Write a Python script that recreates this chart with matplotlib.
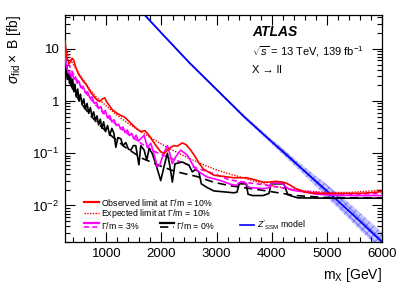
import numpy as np
import matplotlib
matplotlib.use('Agg')
import matplotlib.pyplot as plt
from matplotlib.ticker import FixedLocator, FuncFormatter, LogLocator, NullFormatter

plt.rcParams['font.family'] = ['Liberation Sans', 'DejaVu Sans']
plt.rcParams['mathtext.fontset'] = 'custom'
plt.rcParams['mathtext.rm'] = 'Liberation Sans'
plt.rcParams['mathtext.it'] = 'Liberation Sans:italic'
plt.rcParams['mathtext.bf'] = 'Liberation Sans:bold'
plt.rcParams['hatch.linewidth'] = 0.6

# observed limit, Gamma/m = 10%
obs10_m = [250, 270, 290, 320, 350, 380, 410, 440, 470, 500, 540, 580, 630, 680, 720, 780, 830, 880,
           930, 970, 1010, 1060, 1110, 1160, 1210, 1260, 1320, 1380, 1440, 1500, 1560, 1620, 1700, 1760,
           1830, 1900, 1986, 2047, 2107, 2170, 2227, 2288, 2378, 2450, 2529, 2600, 2679, 2760, 2831,
           2950, 3132, 3300, 3450, 3540, 3650, 3842, 3950, 4076, 4200, 4256, 4350, 4435, 4615, 4800,
           5062, 5300, 5660, 5850, 6000]
obs10_v = [14, 9, 6.5, 5.2, 5.6, 6.6, 6.0, 4.6, 3.8, 3.2, 2.8, 2.4, 2.1, 1.7, 1.45, 1.2, 1.05, 0.98,
           1.1, 1.15, 0.95, 0.8, 0.68, 0.62, 0.57, 0.53, 0.50, 0.44, 0.38, 0.33, 0.29, 0.26, 0.27, 0.23,
           0.18, 0.14, 0.107, 0.099, 0.115, 0.13, 0.14, 0.137, 0.158, 0.145, 0.115, 0.09, 0.065, 0.05, 0.045,
           0.038, 0.036, 0.034, 0.034, 0.034, 0.032, 0.028, 0.028, 0.029, 0.028, 0.027, 0.024, 0.021, 0.018,
           0.0172, 0.017, 0.017, 0.0172, 0.0178, 0.0185]

# expected limit, Gamma/m = 10%
exp10_m = [250, 300, 400, 500, 600, 700, 800, 1000, 1200, 1400, 1600, 1800, 2000, 2200, 2400, 2600,
           2800, 3000, 3200, 3400, 3600, 3800, 4000, 4300, 4600, 5000, 5400, 5800, 6000]
exp10_v = [11, 8, 5, 3.4, 2.4, 1.7, 1.25, 0.8, 0.53, 0.37, 0.27, 0.2, 0.15, 0.115, 0.09, 0.072,
           0.058, 0.048, 0.041, 0.036, 0.031, 0.027, 0.024, 0.021, 0.019, 0.0178, 0.0178, 0.019, 0.020]

# observed limit, Gamma/m = 3%
obs3_m = [250, 270, 290, 310, 330, 355, 380, 410, 440, 470, 500, 540, 580, 620, 660, 700, 740, 780,
          820, 860, 900, 940, 980, 1020, 1060, 1100, 1140, 1180, 1220, 1260, 1300, 1340, 1380, 1420,
          1460, 1500, 1540, 1580, 1625, 1685, 1745, 1806, 1860, 1926, 1970, 2017, 2060, 2107, 2150,
          2197, 2257, 2348, 2468, 2589, 2679, 2831, 3072, 3230, 3357, 3400, 3440, 3530, 3570, 3620,
          3842, 3960, 4000, 4180, 4230, 4300, 4382, 4615, 4800, 5100, 5600, 6000]
obs3_v = [9, 5, 4.2, 3.4, 3.8, 3.0, 3.4, 2.6, 2.9, 2.2, 2.4, 1.8, 1.9, 1.45, 1.5, 1.15, 1.2, 0.9,
          0.95, 0.72, 0.78, 0.58, 0.66, 0.48, 0.53, 0.4, 0.44, 0.34, 0.36, 0.29, 0.32, 0.25, 0.28, 0.22,
          0.24, 0.19, 0.22, 0.17, 0.19, 0.22, 0.13, 0.155, 0.1, 0.055, 0.06, 0.085, 0.11, 0.14, 0.1,
          0.063, 0.085, 0.115, 0.092, 0.055, 0.044, 0.035, 0.030, 0.026, 0.024, 0.027, 0.028, 0.027,
          0.023, 0.022, 0.021, 0.022, 0.027, 0.027, 0.024, 0.021, 0.0195, 0.018, 0.0165, 0.0158, 0.0155,
          0.0155]

# expected limit, Gamma/m = 3%
exp3_m = [250, 300, 400, 500, 600, 700, 800, 1000, 1200, 1400, 1650, 1900, 2242, 2637, 2943, 3230,
          3600, 3842, 4435, 5000, 5500, 6000]
exp3_v = [7.5, 5.5, 3.3, 2.2, 1.55, 1.15, 0.85, 0.52, 0.34, 0.23, 0.15, 0.105, 0.075, 0.052, 0.041,
          0.031, 0.027, 0.025, 0.0195, 0.017, 0.0165, 0.017]

# observed limit, Gamma/m = 0%
obs0_m = [250, 265, 280, 295, 310, 330, 350, 370, 390, 410, 430, 455, 480, 505, 530, 560, 590, 620,
          650, 680, 710, 740, 770, 800, 830, 860, 890, 920, 950, 985, 1022, 1060, 1100, 1138, 1172,
          1210, 1263, 1300, 1353, 1400, 1444, 1490, 1534, 1590, 1625, 1685, 1733, 1775, 1830, 1896,
          1986, 2059, 2107, 2155, 2197, 2245, 2378, 2499, 2559, 2619, 2679, 2722, 2831, 2950, 3072,
          3312, 3370, 3410, 3536, 3570, 3650, 3842, 3950, 3986, 4220, 4292, 4470, 5000, 6000]
obs0_v = [6.5, 3.2, 4.6, 2.6, 3.8, 2.2, 3.2, 1.9, 2.6, 1.5, 2.1, 1.2, 1.7, 1.0, 1.35, 0.85, 1.1, 0.7,
          0.9, 0.58, 0.75, 0.5, 0.62, 0.42, 0.52, 0.35, 0.45, 0.3, 0.4, 0.26, 0.34, 0.22, 0.3, 0.24, 0.13,
          0.2, 0.19, 0.14, 0.16, 0.12, 0.115, 0.14, 0.14, 0.06, 0.14, 0.115, 0.074, 0.123, 0.1, 0.063,
          0.030, 0.063, 0.1, 0.055, 0.028, 0.063, 0.068, 0.059, 0.044, 0.049, 0.044, 0.026, 0.022, 0.019,
          0.0185, 0.0175, 0.018, 0.026, 0.026, 0.0165, 0.0155, 0.0155, 0.017, 0.026, 0.026, 0.016, 0.014,
          0.0138, 0.0138]

# expected limit, Gamma/m = 0%
exp0_m = [250, 300, 400, 500, 600, 700, 800, 1000, 1343, 1650, 2000, 2242, 2637, 2943, 3230, 3842,
          4435, 5000, 6000]
exp0_v = [4.0, 2.8, 1.6, 1.05, 0.75, 0.55, 0.42, 0.26, 0.13, 0.08, 0.056, 0.045, 0.036, 0.028, 0.024,
          0.0195, 0.0155, 0.0142, 0.014]

# Z'_SSM model prediction and its uncertainty (log10 half width)
zssm_m = [1500, 2000, 2500, 3000, 3500, 4000, 4500, 5000, 5500, 6000]
zssm_v = [74, 20, 5.5, 1.66, 0.5, 0.166, 0.056, 0.019, 0.0063, 0.002]
zssm_unc = [0.015, 0.015, 0.02, 0.025, 0.03, 0.045, 0.07, 0.12, 0.16, 0.18]

fig = plt.figure(figsize=(4.03, 2.89), dpi=100)
ax = fig.add_axes([65 / 403, 1 - 242 / 289, 317 / 403, 227.3 / 289])

zv = np.array(zssm_v)
zu = np.array(zssm_unc)
ax.fill_between(zssm_m, zv * 10 ** (-zu), zv * 10 ** zu, facecolor='#c4c4ff', edgecolor='#7070ff',
                hatch='xxxx', linewidth=0, zorder=1)
ax.plot(zssm_m, zssm_v, color='#0000ff', lw=1.3, zorder=2)

ax.plot(exp10_m, exp10_v, color='#ff0000', lw=1.0, ls=(0, (1, 1)), zorder=3)
ax.plot(exp3_m, exp3_v, color='#ff00ff', lw=1.2, ls=(0, (3, 2)), zorder=3)
ax.plot(exp0_m, exp0_v, color='black', lw=1.2, ls=(0, (5, 3)), zorder=3)
ax.plot(obs0_m, obs0_v, color='black', lw=1.2, zorder=4)
ax.plot(obs3_m, obs3_v, color='#ff00ff', lw=1.2, zorder=4)
ax.plot(obs10_m, obs10_v, color='#ff0000', lw=1.2, zorder=5)

ax.set_yscale('log')
ax.set_xlim(250, 6000)
ax.set_ylim(2e-3, 45)

ax.xaxis.set_major_locator(FixedLocator([1000, 2000, 3000, 4000, 5000, 6000]))
ax.xaxis.set_minor_locator(FixedLocator(np.arange(400, 6001, 200)))
ax.yaxis.set_major_locator(FixedLocator([1e-2, 1e-1, 1, 10]))
ax.yaxis.set_minor_locator(LogLocator(base=10, subs=np.arange(2, 10)))
ax.yaxis.set_minor_formatter(NullFormatter())


def ylab(v, pos):
    if v >= 1:
        return '%d' % v
    return r'$10^{%d}$' % round(np.log10(v))


ax.yaxis.set_major_formatter(FuncFormatter(ylab))
ax.tick_params(which='both', direction='in', top=True, right=True, labelsize=9.5, width=0.8)
ax.tick_params(which='major', length=7, pad=4)
ax.tick_params(which='minor', length=3.5)
for s in ax.spines.values():
    s.set_linewidth(0.9)

ax.text(-0.16, 1.0, r'$\sigma_{\rm fid}\times$ B [fb]', rotation=90, ha='center', va='top',
        fontsize=10, transform=ax.transAxes)
ax.text(1.0, -0.145, r'm$_{\rm X}$ [GeV]', ha='right', va='center', fontsize=10, transform=ax.transAxes)

ax.text(0.59, 0.924, 'ATLAS', fontsize=10, fontweight='bold', style='italic', va='center',
        transform=ax.transAxes)
ax.text(0.59, 0.836, r'$\sqrt{s}$ = 13 TeV, 139 fb$^{-1}$', fontsize=8, va='center', transform=ax.transAxes)
ax.text(0.59, 0.756, u'X \u2192 ll', fontsize=8, va='center', transform=ax.transAxes)

# legend drawn by hand
lfs = 6.3
tr = ax.transAxes
ax.plot([0.06, 0.107], [0.175, 0.175], color='#ff0000', lw=1.6, transform=tr)
ax.text(0.114, 0.175, r'Observed limit at $\Gamma$/m = 10%', fontsize=lfs, va='center', transform=tr)
ax.plot([0.06, 0.107], [0.126, 0.126], color='#ff0000', lw=1.0, ls=(0, (1, 1)), transform=tr)
ax.text(0.114, 0.126, r'Expected limit at $\Gamma$/m = 10%', fontsize=lfs, va='center', transform=tr)
ax.plot([0.06, 0.107], [0.083, 0.083], color='#ff00ff', lw=1.6, transform=tr)
ax.plot([0.06, 0.107], [0.066, 0.066], color='#ff00ff', lw=1.2, ls=(0, (3, 2)), transform=tr)
ax.text(0.114, 0.074, r'$\Gamma$/m = 3%', fontsize=lfs, va='center', transform=tr)
ax.plot([0.30, 0.343], [0.083, 0.083], color='black', lw=1.6, transform=tr)
ax.plot([0.30, 0.343], [0.066, 0.066], color='black', lw=1.2, ls=(0, (5, 3)), transform=tr)
ax.text(0.35, 0.074, r'$\Gamma$/m = 0%', fontsize=lfs, va='center', transform=tr)
ax.plot([0.552, 0.596], [0.074, 0.074], color='#0000ff', lw=1.2, transform=tr)
ax.text(0.606, 0.074, r"$Z'_{\rm SSM}$ model", fontsize=lfs, va='center', transform=tr)

fig.savefig('out.png', dpi=100)
